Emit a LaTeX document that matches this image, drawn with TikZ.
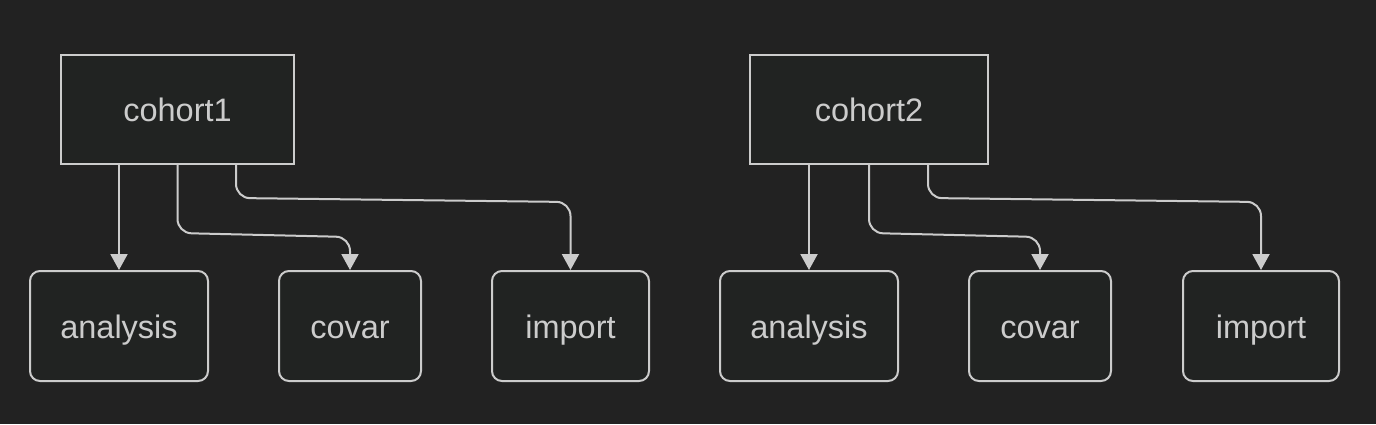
\documentclass[tikz,border=0pt]{standalone}
\usepackage{fontspec}
\setmainfont{Liberation Sans}
\usetikzlibrary{arrows.meta}
\definecolor{bg}{HTML}{222222}
\definecolor{boxfill}{HTML}{212322}
\definecolor{ln}{HTML}{CCCCCC}
\tikzset{
  box/.style={draw=ln, fill=boxfill, line width=2pt, inner sep=0pt, text=ln,
    font=\fontsize{32.5}{38}\selectfont, text height=26pt, text depth=2pt},
  parent/.style={box},
  child/.style={box, rounded corners=10pt},
  arr/.style={draw=ln, line width=2pt, rounded corners=14pt,
    -{Triangle[width=17pt,length=16pt]}}
}
\begin{document}
\begin{tikzpicture}[x=1pt,y=-1pt]
\fill[bg] (0,0) rectangle (1376,424);
\useasboundingbox (0,0) rectangle (1376,424);
% group 1
\node[parent, minimum width=233pt, minimum height=109pt] (c1) at (177.5,109.5) {cohort1};
\node[child, minimum width=178pt, minimum height=110pt] (a1) at (119,326) {analysis};
\node[child, minimum width=142pt, minimum height=110pt] (v1) at (350,326) {covar};
\node[child, minimum width=157pt, minimum height=110pt] (i1) at (570.5,326) {import};
% group 2
\node[parent, minimum width=238pt, minimum height=109pt] (c2) at (869,109.5) {cohort2};
\node[child, minimum width=178pt, minimum height=110pt] (a2) at (809,326) {analysis};
\node[child, minimum width=142pt, minimum height=110pt] (v2) at (1040,326) {covar};
\node[child, minimum width=156pt, minimum height=110pt] (i2) at (1261,326) {import};
% edges group 1
\draw[arr] (c1.south -| a1.north) -- (a1.north);
\draw[arr] (c1.south) -- (c1.south |- 0,233) -- (v1.north |- 0,237) -- (v1.north);
\draw[arr] ([xshift=58.5pt]c1.south) -- ([xshift=58.5pt]c1.south |- 0,198) -- (i1.north |- 0,202) -- (i1.north);
% edges group 2
\draw[arr] (c2.south -| a2.north) -- (a2.north);
\draw[arr] (c2.south) -- (c2.south |- 0,233) -- (v2.north |- 0,237) -- (v2.north);
\draw[arr] ([xshift=59pt]c2.south) -- ([xshift=59pt]c2.south |- 0,198) -- (i2.north |- 0,202) -- (i2.north);
\end{tikzpicture}
\end{document}
